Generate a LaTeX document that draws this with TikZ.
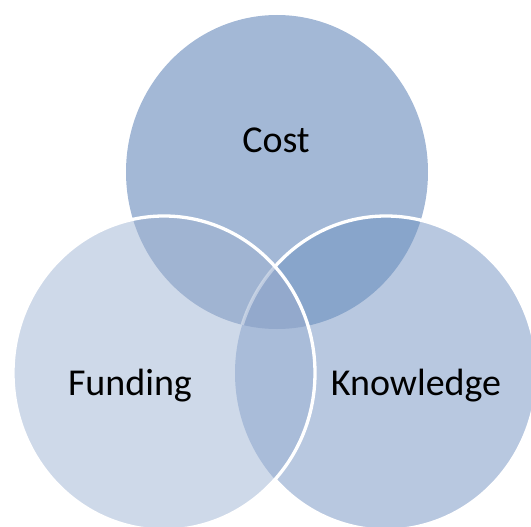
\documentclass[tikz,border=0pt]{standalone}
\usepackage{fontspec}
\setmainfont{Carlito}
\definecolor{costfill}{HTML}{A3B8D6}
\definecolor{fundfill}{HTML}{CED9E9}
\definecolor{knowfill}{HTML}{B8C8E0}
\definecolor{costfund}{HTML}{A0B4D2}
\definecolor{costknow}{HTML}{88A5CB}
\definecolor{fundknow}{HTML}{A9BCD9}
\definecolor{allthree}{HTML}{93A9CC}

\begin{document}
\begin{tikzpicture}[x=1pt, y=-1pt,
    rim/.style = {draw=white, line width=3.3pt},
    word/.style = {anchor=base, font=\fontsize{38}{45}\selectfont},
    costarea/.style = {insert path={(277,172) ellipse [x radius=151, y radius=157]}},
    fundarea/.style = {insert path={(164,373) ellipse [x radius=151, y radius=157]}},
    knowarea/.style = {insert path={(386,373) ellipse [x radius=151, y radius=157]}}]
    \useasboundingbox (0,0) rectangle (531,527);
    \clip (0,0) rectangle (531,527);
    % cost
    \fill[costfill, costarea];
    % knowledge over cost
    \fill[knowfill, knowarea];
    \begin{scope}
        \clip[costarea];
        \fill[costknow, knowarea];
    \end{scope}
    \path[rim, knowarea];
    % funding on top
    \fill[fundfill, fundarea];
    \begin{scope}
        \clip[fundarea];
        \fill[costfund, costarea];
        \fill[fundknow, knowarea];
        \clip[costarea];
        \fill[allthree, knowarea];
    \end{scope}
    \begin{scope}
        \clip[fundarea];
        \clip[costarea];
        \path[rim, draw opacity=0.4, knowarea];
    \end{scope}
    \path[rim, fundarea];
    % labels
    \node[word] (cost) at (276,153) {Cost};
    \node[word] (funding) at (130,395) {Funding};
    \node[word] (knowledge) at (416,395) {Knowledge};
\end{tikzpicture}
\end{document}
